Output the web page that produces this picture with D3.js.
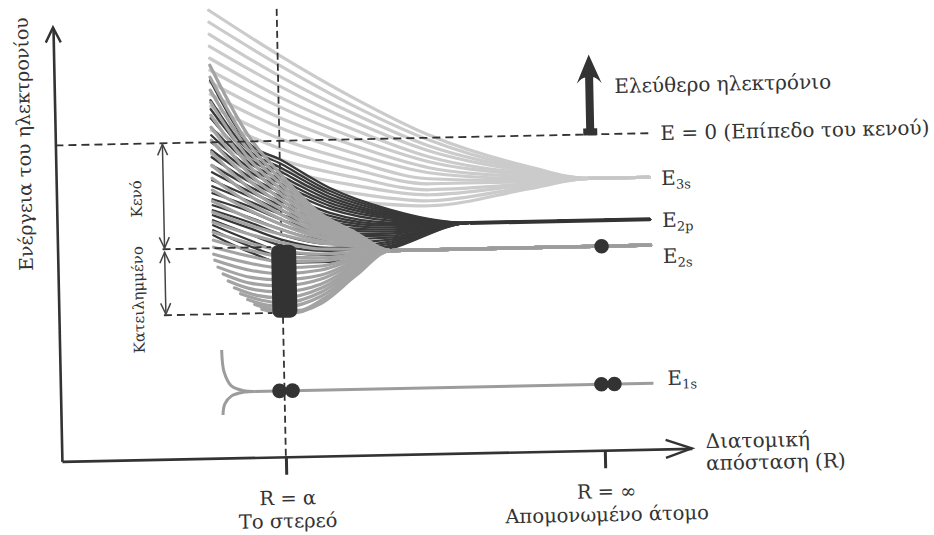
<!DOCTYPE html>
<html>
<head>
<meta charset="utf-8">
<script src="https://cdn.jsdelivr.net/npm/d3@7/dist/d3.min.js"></script>
<style>
  body { margin: 0; background: #fff; }
  svg text { font-family: "DejaVu Serif", serif; fill: #333; }
</style>
</head>
<body>
<svg id="chart" width="934" height="535"></svg>
<script>
// arbitrary units: R = interatomic distance, E = electron energy (E = 0 is the vacuum level)
var xTicks = [224, 543];
var xTickLabels = [["R = α", "Το στερεό"], ["R = ∞", "Απομονωμένο άτομο"]];
var axisLabelY = "Ενέργεια του ηλεκτρονίου";
var axisLabelX = ["Διατομική", "απόσταση (R)"];

var levelNames = ["3s", "2p", "2s", "1s"];
var levelE = [-44, -86, -112, -250];
var levelStartR = [533, 413, 333, 194];
var levelEndR = 593;

// 3s band (light): energies of each split level at the R columns
var band3sR = [156, 225, 298, 373, 473, 533];
var band3sE = [
  [132, 86, 42, 3, -31, -44],
  [120, 76, 34, -2, -33, -44],
  [108, 65, 26, -8, -34, -44],
  [96, 55, 18, -13, -36, -44],
  [84, 44, 10, -19, -38, -44],
  [72, 34, 2, -24, -39, -44],
  [60, 23, -6, -30, -41, -44],
  [48, 13, -14, -35, -43, -44],
  [36, 2, -22, -41, -44.5, -44],
  [24, -8, -30, -46, -46, -44],
  [12, -19, -38, -52, -48, -44],
  [0, -29, -46, -57, -49, -44],
  [-12, -40, -54, -63, -51, -44],
  [-24, -50, -62, -68, -53, -44]
];

// 2p band (dark)
var band2pR = [156, 193, 225, 273, 333, 413];
var band2pE = [
  [62, -1, -19, -48, -71, -86],
  [52, -5, -23, -51, -72.5, -86],
  [42, -9, -27, -54, -74, -86],
  [33, -13, -31, -57, -75.5, -86],
  [24, -17, -35, -60, -77, -86],
  [15, -21, -39, -63, -78.5, -86],
  [7, -26, -43, -66, -80, -86],
  [0, -30, -47, -69, -82, -86],
  [-8, -35, -52, -73, -84, -86],
  [-15, -40, -56, -76, -85.5, -86],
  [-23, -45, -61, -79, -87, -86],
  [-30, -50, -65, -82, -89, -86],
  [-38, -55, -70, -86, -91, -86],
  [-44, -60, -74, -89, -93, -86],
  [-51, -65, -79, -93, -95, -86],
  [-57, -70, -84, -96, -97, -86],
  [-63, -76, -89, -100, -99, -86],
  [-68, -81, -94, -104, -101, -86],
  [-73, -87, -99, -108, -103, -86],
  [-78, -93, -105, -111, -105, -86],
  [-83, -99, -111, -115, -107, -86],
  [-88, -105, -116, -118, -108.5, -86],
  [-93, -111, -122, -122, -110, -86]
];

// 2s band (grey): [R, E] points of each line
var band2sLines = [
  [[156, 77], [193, 6], [225, -34], [263, -73], [298, -93], [333, -112]],
  [[156, 65], [193, -2], [225, -39], [263, -76], [298, -94], [333, -112]],
  [[156, 52], [193, -9], [225, -44], [263, -78], [298, -95], [333, -112]],
  [[156, 40], [193, -17], [225, -49], [263, -81], [298, -96], [333, -112]],
  [[156, 27], [193, -24], [225, -54], [263, -83], [298, -97], [333, -112]],
  [[156, 15], [193, -32], [225, -59], [263, -86], [298, -98], [333, -112]],
  [[156, 2], [193, -39], [225, -64], [263, -88], [298, -99], [333, -112]],
  [[156, -10], [193, -47], [225, -69], [263, -91], [298, -101], [333, -112]],
  [[156, -23], [193, -54], [225, -74], [263, -93], [298, -102], [333, -112]],
  [[156, -36], [193, -62], [225, -79], [263, -96], [298, -103], [333, -112]],
  [[156, -48], [193, -69], [225, -84], [263, -98], [298, -104], [333, -112]],
  [[156, -59], [193, -77], [225, -89], [263, -101], [298, -106], [333, -112]],
  [[156, -70], [193, -84], [225, -94], [263, -103], [298, -107], [333, -112]],
  [[156, -80], [193, -93], [225, -102], [263, -109], [298, -110], [333, -112]],
  [[156, -90], [193, -102], [225, -110], [263, -114], [298, -113], [333, -112]],
  [[156, -98], [193, -109], [225, -116], [263, -118], [298, -115], [333, -112]],
  [[156, -105], [193, -115], [225, -121], [263, -121], [298, -116], [333, -112]],
  [[156, -112], [193, -122], [225, -127], [263, -126], [298, -118], [333, -112]],
  [[157, -118], [193, -129], [225, -133], [263, -130], [298, -120], [333, -112]],
  [[160, -125], [193, -136], [225, -139], [263, -135], [298, -122], [333, -112]],
  [[165, -132], [193, -142], [225, -145], [263, -139], [298, -124], [333, -112]],
  [[170, -139], [195, -148], [225, -151], [263, -144], [298, -126], [333, -112]],
  [[176, -146], [198, -154], [225, -157], [263, -148], [298, -128], [333, -112]],
  [[182, -152], [203, -159], [226, -162], [263, -152], [298, -130], [333, -112]],
  [[189, -158], [208, -164], [228, -166], [263, -156], [298, -132], [333, -112]],
  [[196, -163], [218, -169], [240, -170], [263, -160], [298, -134], [333, -112]],
  [[203, -168], [228, -173], [263, -163], [298, -136], [333, -112]]
];

// 1s splitting near the left end
var fork1sUp = [[162, -208], [164, -230], [171, -244], [183, -249], [194, -250]];
var fork1sDown = [[162, -273], [164, -262], [171, -254], [183, -250.5], [194, -250]];

var electrons1sR = [219, 232, 541, 554];
var electrons2sR = [544];
var vacuumE = 0;
var occupiedE = [-106, -172];
var gapArrowR = 107;
var freeElectronR = 535;
var freeElectronE = [0, 80];
var alphaLineTopE = 132;

var svg = d3.select("#chart");
svg.append("rect").attr("width", 934).attr("height", 535).attr("fill", "#fff");

var x = d3.scaleLinear().domain([0, 630]).range([58, 688]);
var y = d3.scaleLinear().domain([-316, 137]).range([453, 0]);

// the printed figure is a little tilted
var g = svg.append("g").attr("transform", "rotate(-1.18,467,267)");

var line = d3.line()
  .x(function(d) { return x(d[0]); })
  .y(function(d) { return y(d[1]); })
  .curve(d3.curveMonotoneX);

function drawBand(lines, color, width) {
  g.append("g")
    .selectAll("path")
    .data(lines)
    .enter()
    .append("path")
    .attr("d", line)
    .attr("fill", "none")
    .attr("stroke", color)
    .attr("stroke-width", width)
    .attr("stroke-linecap", "round");
}

var lines3s = band3sE.map(function(row) {
  return row.map(function(e, i) { return [band3sR[i], e]; }).concat([[levelEndR, levelE[0]]]);
});
var lines2p = band2pE.map(function(row) {
  return row.map(function(e, i) { return [band2pR[i], e]; }).concat([[levelEndR, levelE[1]]]);
});
var lines2s = band2sLines.map(function(pts) {
  return pts.concat([[levelEndR, levelE[2]]]);
});

drawBand(lines3s, "#cbcbcb", 3.2);

// R = a guide
g.append("line")
  .attr("x1", x(xTicks[0])).attr("x2", x(xTicks[0]))
  .attr("y1", y(alphaLineTopE)).attr("y2", y(-316))
  .attr("stroke", "#333").attr("stroke-width", 1.8)
  .attr("stroke-dasharray", "7,4");

drawBand(lines2p, "#383838", 2.3);
drawBand(lines2s, "#a3a3a3", 3.2);

// isolated atom levels
var levelColors = ["#c6c6c6", "#333", "#9c9c9c", "#9c9c9c"];
var levelWidths = [2.5, 4, 3, 3];
g.append("g")
  .selectAll("line")
  .data(levelE)
  .enter()
  .append("line")
  .attr("x1", function(d, i) { return x(levelStartR[i]); })
  .attr("x2", x(levelEndR))
  .attr("y1", function(d) { return y(d); })
  .attr("y2", function(d) { return y(d); })
  .attr("stroke", function(d, i) { return levelColors[i]; })
  .attr("stroke-width", function(d, i) { return levelWidths[i]; });

[fork1sUp, fork1sDown].forEach(function(pts) {
  g.append("path")
    .attr("d", d3.line().x(function(d) { return x(d[0]); }).y(function(d) { return y(d[1]); }).curve(d3.curveCatmullRom)(pts))
    .attr("fill", "none").attr("stroke", "#9c9c9c").attr("stroke-width", 3);
});

// dashed reference levels
g.append("line")
  .attr("x1", x(0)).attr("x2", x(levelEndR) + 2)
  .attr("y1", y(vacuumE)).attr("y2", y(vacuumE))
  .attr("stroke", "#333").attr("stroke-width", 1.8)
  .attr("stroke-dasharray", "8,5");

var boxW = 25;
var boxX = x(xTicks[0]) + 2 - boxW / 2;
g.selectAll(".occ")
  .data(occupiedE)
  .enter()
  .append("line")
  .attr("x1", x(gapArrowR) - 2).attr("x2", boxX)
  .attr("y1", function(d) { return y(d); })
  .attr("y2", function(d) { return y(d); })
  .attr("stroke", "#333").attr("stroke-width", 1.8)
  .attr("stroke-dasharray", "8,5");

// occupied band at R = a
g.append("rect")
  .attr("x", boxX)
  .attr("y", y(occupiedE[0]) - 2)
  .attr("width", boxW)
  .attr("height", y(occupiedE[1]) - y(occupiedE[0]) + 7)
  .attr("rx", 7)
  .attr("fill", "#333");

// double arrows: empty / occupied
function vArrow(e1, e2) {
  var ax = x(gapArrowR), ya = y(e1) + 1, yb = y(e2) - 1;
  g.append("line").attr("x1", ax).attr("x2", ax).attr("y1", ya).attr("y2", yb)
    .attr("stroke", "#444").attr("stroke-width", 1.5);
  g.append("path")
    .attr("d", "M" + (ax - 5) + "," + (ya + 11) + "L" + ax + "," + ya + "L" + (ax + 5) + "," + (ya + 11) +
      "M" + (ax - 5) + "," + (yb - 11) + "L" + ax + "," + yb + "L" + (ax + 5) + "," + (yb - 11))
    .attr("fill", "none").attr("stroke", "#444").attr("stroke-width", 1.5);
}
vArrow(vacuumE, occupiedE[0]);
vArrow(occupiedE[0] - 2, occupiedE[1]);

g.append("text")
  .attr("transform", "translate(" + (x(gapArrowR) - 22) + "," + y(-55) + ") rotate(-90)")
  .attr("text-anchor", "middle").style("font-size", "15px").text("Κενό");
g.append("text")
  .attr("transform", "translate(" + (x(gapArrowR) - 22) + "," + y(-156) + ") rotate(-90)")
  .attr("text-anchor", "middle").style("font-size", "15px").text("Κατειλημμένο");

// electrons
g.append("g")
  .selectAll("circle")
  .data(electrons1sR.map(function(r) { return [r, levelE[3]]; })
    .concat(electrons2sR.map(function(r) { return [r, levelE[2]]; })))
  .enter()
  .append("circle")
  .attr("cx", function(d) { return x(d[0]); })
  .attr("cy", function(d) { return y(d[1]); })
  .attr("r", 7.3)
  .attr("fill", "#333");

// free electron arrow
(function() {
  var ax = x(freeElectronR), yb = y(freeElectronE[0]) + 1, yt = y(freeElectronE[1]);
  g.append("rect").attr("x", ax - 7).attr("y", yb - 7).attr("width", 14).attr("height", 7).attr("fill", "#333");
  g.append("path")
    .attr("d", "M" + ax + "," + yt +
      "Q" + (ax + 6) + "," + (yt + 14) + " " + (ax + 12.5) + "," + (yt + 29) +
      "Q" + (ax + 7) + "," + (yt + 23) + " " + (ax + 4) + "," + (yt + 23) +
      "L" + (ax + 4) + "," + (yb - 6) + "L" + (ax - 4) + "," + (yb - 6) +
      "L" + (ax - 4) + "," + (yt + 23) +
      "Q" + (ax - 7) + "," + (yt + 23) + " " + (ax - 12.5) + "," + (yt + 29) +
      "Q" + (ax - 6) + "," + (yt + 14) + " " + ax + "," + yt + "Z")
    .attr("fill", "#333");
  g.append("text").attr("x", ax + 25).attr("y", y(41))
    .style("font-size", "20px").text("Ελεύθερο ηλεκτρόνιο");
})();

g.append("text").attr("x", x(levelEndR) + 12).attr("y", y(vacuumE) + 7)
  .style("font-size", "20px").text("E = 0 (Επίπεδο του κενού)");

// level labels
var labelDy = [8, 8, 18, 2];
g.append("g")
  .selectAll("text")
  .data(levelNames)
  .enter()
  .append("text")
  .attr("x", function(d, i) { return x(levelEndR) + (i === 3 ? 14 : 12); })
  .attr("y", function(d, i) { return y(levelE[i]) + labelDy[i]; })
  .style("font-size", "20px")
  .each(function(d) {
    var t = d3.select(this);
    t.append("tspan").text("E");
    t.append("tspan").attr("dy", 4).style("font-size", "13px").text(d);
  });

// axes
var xAxisG = g.append("g")
  .attr("transform", "translate(0," + y(-316) + ")")
  .call(d3.axisBottom(x).tickValues(xTicks).tickSize(18).tickSizeOuter(0).tickFormat(""));
xAxisG.select(".domain").attr("stroke", "#333").attr("stroke-width", 2.6);
xAxisG.selectAll(".tick line").attr("stroke", "#333").attr("stroke-width", 3);
g.append("path")
  .attr("d", "M" + (x(630) - 26) + "," + (y(-316) - 9) + "L" + x(630) + "," + y(-316) + "L" + (x(630) - 26) + "," + (y(-316) + 9))
  .attr("fill", "none").attr("stroke", "#333").attr("stroke-width", 2.4);

var yAxisG = g.append("g")
  .attr("transform", "translate(" + x(0) + ",0)")
  .call(d3.axisLeft(y.copy().domain([-316, 118]).range([y(-316), y(118)])).tickValues([]).tickSizeOuter(0));
yAxisG.select(".domain").attr("stroke", "#333").attr("stroke-width", 2.6);
g.append("path")
  .attr("d", "M" + (x(0) - 7.5) + "," + (y(118) + 15) + "L" + x(0) + "," + y(118) + "L" + (x(0) + 7.5) + "," + (y(118) + 15))
  .attr("fill", "none").attr("stroke", "#333").attr("stroke-width", 2.4);

// tick labels
xTickLabels.forEach(function(lbl, i) {
  var t = g.append("text").attr("text-anchor", "middle").style("font-size", "19.5px");
  t.append("tspan").attr("x", x(xTicks[i]) + 1).attr("y", y(-316) + 48).text(lbl[0]);
  t.append("tspan").attr("x", x(xTicks[i]) + 1).attr("y", y(-316) + 71).text(lbl[1]);
});

var xl = g.append("text").style("font-size", "20px");
xl.append("tspan").attr("x", x(630) + 14).attr("y", y(-316)).text(axisLabelX[0]);
xl.append("tspan").attr("x", x(630) + 14).attr("y", y(-316) + 22).text(axisLabelX[1]);

g.append("text")
  .attr("transform", "translate(" + (x(0) - 25) + "," + y(2) + ") rotate(-90)")
  .attr("text-anchor", "middle").style("font-size", "19px").text(axisLabelY);
</script>
</body>
</html>
